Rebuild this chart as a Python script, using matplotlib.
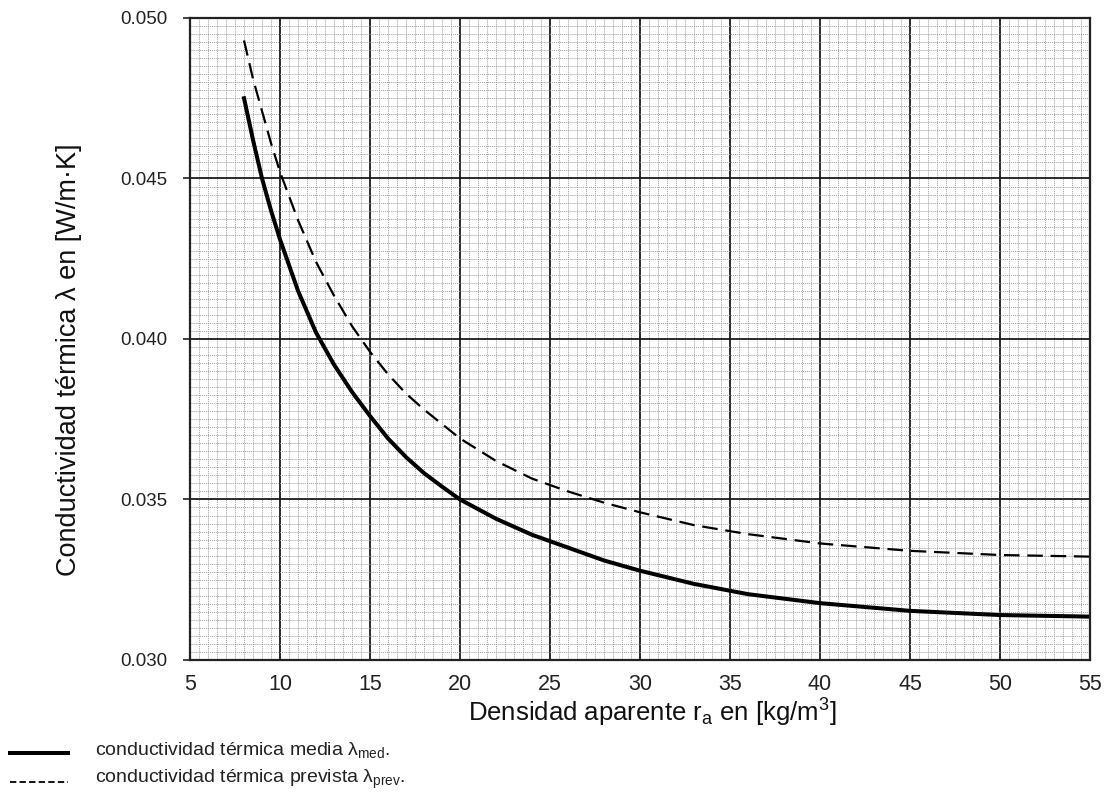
import matplotlib
matplotlib.use("Agg")
import matplotlib.pyplot as plt
from matplotlib.lines import Line2D
from matplotlib.ticker import MultipleLocator

plt.rcParams['font.family'] = ['Liberation Sans', 'DejaVu Sans']
plt.rcParams['mathtext.fontset'] = 'custom'
plt.rcParams['mathtext.rm'] = 'Liberation Sans'
plt.rcParams['mathtext.it'] = 'Liberation Sans:italic'

# density values [kg/m3]
density = [8, 8.5, 9, 9.5, 10, 11, 12, 13, 14, 15, 16, 17, 18, 19, 20,
           22, 24, 26, 28, 30, 33, 36, 40, 45, 50, 55]
# mean thermal conductivity (solid)
lambda_med = [0.0475, 0.0462, 0.0450, 0.0440, 0.0431, 0.0415, 0.0402, 0.0392,
              0.03835, 0.0376, 0.0369, 0.03632, 0.03582, 0.0354, 0.0350,
              0.0344, 0.0339, 0.0335, 0.0331, 0.03278, 0.03237, 0.03205,
              0.03177, 0.03153, 0.0314, 0.03135]
# predicted thermal conductivity (dashed)
lambda_prev = [0.0493, 0.0481, 0.0471, 0.0461, 0.0452, 0.0437, 0.0424, 0.04135,
               0.0404, 0.0396, 0.0389, 0.0383, 0.0378, 0.03735, 0.0369,
               0.0362, 0.03565, 0.03525, 0.0349, 0.0346, 0.0342, 0.03392,
               0.03363, 0.0334, 0.03327, 0.03322]

x_ticks = [5, 10, 15, 20, 25, 30, 35, 40, 45, 50, 55]
y_ticks = [0.030, 0.035, 0.040, 0.045, 0.050]

fig = plt.figure(figsize=(11.08, 7.99), dpi=100)
ax = fig.add_axes([0.1715, 0.174, 0.8123, 0.8035])

ax.plot(density, lambda_med, color='black', lw=2.9, solid_joinstyle='round')
ax.plot(density, lambda_prev, color='black', lw=1.6, dashes=(7, 3.5))

ax.set_xlim(5, 55)
ax.set_ylim(0.030, 0.050)
ax.set_xticks(x_ticks)
ax.set_yticks(y_ticks)
ax.set_yticklabels(['%.3f' % v for v in y_ticks])
ax.xaxis.set_minor_locator(MultipleLocator(0.5))
ax.yaxis.set_minor_locator(MultipleLocator(0.00025))

# graph-paper grid
ax.grid(which='minor', color='#a0a0a0', lw=0.7, ls=(0, (1, 1)))
ax.grid(which='major', color='#1a1a1a', lw=1.3)
ax.set_axisbelow(True)

ax.tick_params(axis='both', which='minor', length=0)
ax.tick_params(axis='x', which='major', length=0, pad=10, labelsize=15.5,
               colors='#222222')
ax.tick_params(axis='y', which='major', length=5, width=1.2, pad=11,
               labelsize=13.5, colors='#222222')
for s in ax.spines.values():
    s.set_linewidth(1.6)
    s.set_color('#222222')

ax.set_xlabel(r'Densidad aparente r$_{\mathrm{a}}$ en [kg/m$^{3}$]',
              fontsize=18.5, color='#111111')
ax.set_ylabel('Conductividad térmica λ en [W/m·K]', fontsize=19.5,
              color='#111111')
ax.xaxis.set_label_coords(0.514, -0.0576)
ax.yaxis.set_label_coords(-0.12, 0.468)

# legend under the chart
fig.add_artist(Line2D([0.009, 0.0614], [0.0576, 0.0576], color='black', lw=2.9,
                      transform=fig.transFigure))
fig.add_artist(Line2D([0.009, 0.0614], [0.0213, 0.0213], color='black', lw=1.3,
                      dashes=(3.5, 1.8), transform=fig.transFigure))
fig.text(0.0857, 0.0613, r'conductividad térmica media λ$_{\mathrm{med}}$.',
         fontsize=14, va='center', color='#222222')
fig.text(0.0857, 0.025, r'conductividad térmica prevista λ$_{\mathrm{prev}}$.',
         fontsize=14, va='center', color='#222222')

fig.savefig('out.png', dpi=100)
